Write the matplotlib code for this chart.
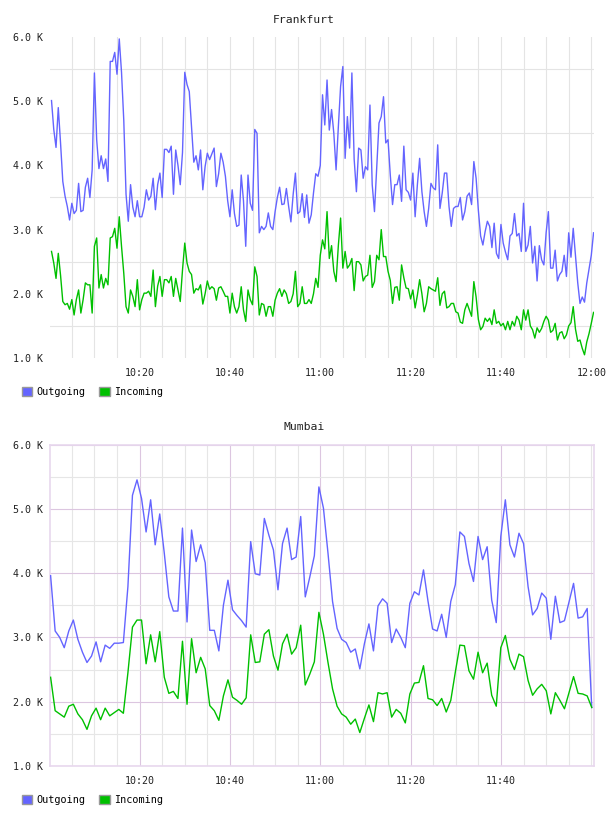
import matplotlib
matplotlib.use('Agg')
import matplotlib.pyplot as plt
import matplotlib.dates as mdates
from matplotlib.patches import Patch
from matplotlib.ticker import MultipleLocator
import pandas as pd

# Frankfurt, 30 s samples from 10:00:30 to 12:00:30 (values in K)
fra_out = [5.01, 4.56, 4.28, 4.90, 4.35, 3.75, 3.52, 3.36, 3.15, 3.41,
           3.25, 3.30, 3.72, 3.28, 3.30, 3.66, 3.80, 3.50, 3.93, 5.44,
           4.40, 3.95, 4.15, 3.95, 4.10, 3.75, 5.62, 5.62, 5.76, 5.42,
           5.97, 5.45, 4.70, 3.55, 3.13, 3.70, 3.35, 3.20, 3.45, 3.20,
           3.20, 3.35, 3.62, 3.46, 3.52, 3.80, 3.31, 3.70, 3.88, 3.50,
           4.25, 4.25, 4.20, 4.30, 3.55, 4.24, 4.00, 3.70, 4.20, 5.45,
           5.26, 5.15, 4.61, 4.05, 4.15, 3.93, 4.24, 3.62, 3.98, 4.19,
           4.09, 4.18, 4.27, 3.67, 3.87, 4.19, 4.05, 3.83, 3.45, 3.20,
           3.62, 3.25, 3.05, 3.07, 3.85, 3.45, 2.74, 3.85, 3.41, 3.30,
           4.56, 4.50, 2.95, 3.05, 3.00, 3.05, 3.26, 3.05, 3.00, 3.28,
           3.50, 3.66, 3.39, 3.40, 3.64, 3.36, 3.12, 3.55, 3.88, 3.25,
           3.28, 3.56, 3.19, 3.54, 3.10, 3.23, 3.57, 3.87, 3.83, 4.00,
           5.10, 4.63, 5.33, 4.55, 4.87, 4.50, 3.93, 4.60, 5.23, 5.54,
           4.11, 4.76, 4.27, 5.44, 4.10, 3.59, 4.27, 4.24, 3.80, 3.98,
           3.93, 4.94, 3.70, 3.28, 3.98, 4.66, 4.76, 5.07, 4.35, 4.40,
           3.85, 3.39, 3.70, 3.70, 3.85, 3.44, 4.30, 3.62, 3.58, 3.46,
           3.88, 3.20, 3.70, 4.11, 3.59, 3.28, 3.05, 3.33, 3.72, 3.65,
           3.62, 4.32, 3.33, 3.57, 3.88, 3.88, 3.36, 3.05, 3.33, 3.36,
           3.36, 3.50, 3.15, 3.28, 3.52, 3.57, 3.39, 4.06, 3.80, 3.30,
           2.90, 2.76, 2.97, 3.13, 3.05, 2.72, 3.10, 2.63, 2.55, 3.08,
           2.79, 2.65, 2.53, 2.90, 2.94, 3.25, 2.90, 2.94, 2.66, 3.41,
           2.66, 2.76, 3.05, 2.48, 2.74, 2.20, 2.75, 2.53, 2.45, 2.95,
           3.28, 2.40, 2.40, 2.68, 2.20, 2.30, 2.35, 2.60, 2.27, 2.95,
           2.57, 3.02, 2.60, 2.17, 1.85, 1.95, 1.87, 2.17, 2.38, 2.60,
           2.95]
fra_in = [2.66, 2.48, 2.24, 2.63, 2.29, 1.88, 1.83, 1.85, 1.76, 1.91,
          1.67, 1.91, 2.06, 1.70, 1.91, 2.17, 2.14, 2.14, 1.70, 2.74,
          2.87, 2.09, 2.30, 2.09, 2.24, 2.14, 2.87, 2.89, 3.02, 2.71,
          3.20, 2.74, 2.32, 1.80, 1.70, 2.06, 1.96, 1.80, 2.22, 1.75,
          1.91, 2.01, 2.01, 2.04, 1.96, 2.37, 1.80, 2.12, 2.27, 1.96,
          2.22, 2.22, 2.17, 2.27, 1.96, 2.24, 2.06, 1.88, 2.37, 2.79,
          2.48, 2.35, 2.30, 2.01, 2.08, 2.06, 2.14, 1.84, 2.00, 2.20,
          2.07, 2.11, 2.08, 1.90, 2.09, 2.11, 2.04, 1.96, 1.96, 1.70,
          2.01, 1.80, 1.70, 1.80, 2.11, 1.75, 1.57, 2.06, 1.91, 1.83,
          2.42, 2.27, 1.67, 1.85, 1.83, 1.65, 1.80, 1.80, 1.65, 1.90,
          2.01, 2.08, 1.96, 2.06, 2.00, 1.85, 1.88, 2.00, 2.35, 1.80,
          1.85, 2.11, 1.85, 1.85, 1.91, 1.85, 2.00, 2.24, 2.10, 2.60,
          2.84, 2.70, 3.28, 2.55, 2.75, 2.35, 2.19, 2.75, 3.18, 2.40,
          2.66, 2.40, 2.45, 2.55, 2.05, 2.50, 2.50, 2.45, 2.20, 2.27,
          2.29, 2.60, 2.10, 2.19, 2.60, 2.53, 3.00, 2.58, 2.58, 2.35,
          2.21, 1.85, 2.10, 2.11, 1.90, 2.45, 2.25, 2.09, 2.08, 1.92,
          2.06, 1.78, 1.98, 2.22, 2.00, 1.72, 1.85, 2.11, 2.08, 2.06,
          2.04, 2.25, 1.82, 2.00, 2.04, 1.78, 1.80, 1.85, 1.85, 1.72,
          1.70, 1.56, 1.54, 1.75, 1.85, 1.75, 1.65, 2.19, 1.95, 1.60,
          1.44, 1.49, 1.62, 1.57, 1.62, 1.52, 1.75, 1.54, 1.57, 1.50,
          1.54, 1.44, 1.57, 1.44, 1.57, 1.50, 1.65, 1.59, 1.44, 1.75,
          1.59, 1.75, 1.50, 1.44, 1.31, 1.47, 1.40, 1.46, 1.57, 1.65,
          1.59, 1.40, 1.43, 1.54, 1.28, 1.39, 1.41, 1.30, 1.36, 1.50,
          1.55, 1.80, 1.45, 1.26, 1.28, 1.15, 1.05, 1.25, 1.38, 1.54,
          1.71]

# Mumbai, ~1 min samples (values in K)
mum_out = [3.96, 3.10, 3.00, 2.84, 3.10, 3.27, 2.97, 2.77, 2.61, 2.71,
           2.93, 2.62, 2.88, 2.83, 2.91, 2.91, 2.92, 3.79, 5.21, 5.45,
           5.16, 4.64, 5.14, 4.44, 4.92, 4.31, 3.63, 3.41, 3.41, 4.70,
           3.24, 4.67, 4.18, 4.44, 4.16, 3.11, 3.11, 2.79, 3.50, 3.89,
           3.43, 3.34, 3.26, 3.16, 4.49, 3.99, 3.97, 4.85, 4.59, 4.36,
           3.74, 4.46, 4.70, 4.21, 4.25, 4.88, 3.63, 3.94, 4.27, 5.34,
           5.01, 4.31, 3.56, 3.14, 2.97, 2.92, 2.77, 2.82, 2.51, 2.90,
           3.21, 2.79, 3.49, 3.60, 3.53, 2.92, 3.13, 3.00, 2.84, 3.53,
           3.71, 3.66, 4.05, 3.56, 3.13, 3.10, 3.36, 3.00, 3.56, 3.82,
           4.64, 4.57, 4.15, 3.87, 4.57, 4.21, 4.41, 3.58, 3.23, 4.57,
           5.14, 4.44, 4.25, 4.62, 4.46, 3.79, 3.35, 3.45, 3.69, 3.61,
           2.97, 3.64, 3.23, 3.26, 3.55, 3.84, 3.30, 3.32, 3.45, 1.91]
mum_in = [2.38, 1.86, 1.81, 1.76, 1.93, 1.96, 1.81, 1.72, 1.57, 1.78,
          1.90, 1.72, 1.90, 1.78, 1.83, 1.88, 1.82, 2.45, 3.16, 3.27,
          3.27, 2.59, 3.04, 2.62, 3.09, 2.38, 2.13, 2.16, 2.05, 2.94,
          1.96, 2.98, 2.45, 2.69, 2.51, 1.94, 1.86, 1.71, 2.09, 2.34,
          2.07, 2.02, 1.96, 2.06, 3.04, 2.61, 2.62, 3.05, 3.12, 2.71,
          2.49, 2.90, 3.05, 2.74, 2.84, 3.19, 2.26, 2.43, 2.62, 3.39,
          3.05, 2.61, 2.20, 1.93, 1.81, 1.76, 1.65, 1.73, 1.52, 1.74,
          1.95, 1.69, 2.14, 2.12, 2.14, 1.76, 1.88, 1.82, 1.67, 2.12,
          2.29, 2.30, 2.56, 2.05, 2.03, 1.94, 2.05, 1.84, 2.02, 2.46,
          2.88, 2.87, 2.48, 2.35, 2.77, 2.45, 2.60, 2.10, 1.93, 2.84,
          3.03, 2.66, 2.50, 2.74, 2.70, 2.33, 2.10, 2.20, 2.27, 2.17,
          1.81, 2.14, 2.02, 1.89, 2.14, 2.39, 2.13, 2.12, 2.09, 1.91]

y_ticks = [1, 2, 3, 4, 5, 6]
y_labels = ['1.0 K', '2.0 K', '3.0 K', '4.0 K', '5.0 K', '6.0 K']
x_labels = ['10:20', '10:40', '11:00', '11:20', '11:40', '12:00']
series = ['Outgoing', 'Incoming']
colors = ['#6464ff', '#00c000']

day = '2020-01-01 '
fra_t = pd.date_range(day + '10:00:30', periods=len(fra_out), freq='30s')
mum_t = pd.date_range(day + '10:00:18', day + '12:00:06', periods=len(mum_out))
x_ticks = pd.to_datetime([day + s for s in x_labels])
xlim = (pd.Timestamp(day + '10:00:10'), pd.Timestamp(day + '12:00:36'))

mono = 'DejaVu Sans Mono'
fig = plt.figure(figsize=(6.08, 8.16), dpi=100)
W, H = 608, 816


def panel(top, bottom, title, t, out, inc, nticks, framed):
    ax = fig.add_axes([50 / W, 1 - bottom / H, 544 / W, (bottom - top) / H])
    ax.plot(t, out, color=colors[0], lw=1.0, zorder=3)
    ax.plot(t, inc, color=colors[1], lw=1.0, zorder=3)
    ax.set_xlim(*xlim)
    ax.set_ylim(1, 6)
    ax.set_yticks(y_ticks)
    ax.set_yticklabels(y_labels)
    ax.yaxis.set_minor_locator(MultipleLocator(0.5))
    ax.set_xticks(x_ticks[:nticks])
    ax.set_xticklabels(x_labels[:nticks])
    ax.xaxis.set_minor_locator(mdates.MinuteLocator(byminute=range(0, 60, 5)))
    ax.tick_params(which='both', length=0)
    ax.tick_params(axis='y', pad=5, labelsize=7.2)
    ax.tick_params(axis='x', pad=7, labelsize=7.2)
    for lab in ax.get_xticklabels() + ax.get_yticklabels():
        lab.set_family(mono)
        lab.set_color('#222222')
    ax.set_axisbelow(True)
    if framed:
        ax.grid(which='major', color='#dcc6e0', lw=0.8)
        ax.grid(which='minor', color='#e6e6e6', lw=0.8)
        for s in ax.spines.values():
            s.set_color('#e8d8ee')
            s.set_linewidth(1.2)
    else:
        ax.grid(which='major', axis='x', color='#e4e4e4', lw=0.8)
        ax.grid(which='minor', color='#e4e4e4', lw=0.8)
        for s in ax.spines.values():
            s.set_visible(False)
    # title is centred on the figure, not the axes
    fig.text(0.5, 1 - (top - 17) / H, title, family=mono, fontsize=8.2,
             ha='center', va='center', color='#222222')
    handles = [Patch(facecolor=c, edgecolor='#999999', label=l)
               for c, l in zip(colors, series)]
    fig.legend(handles=handles, loc='upper left',
               bbox_to_anchor=(22 / W, 1 - (bottom + 29) / H),
               ncol=2, frameon=False, prop={'family': mono, 'size': 7.3},
               handlelength=1.0, handleheight=1.0, handletextpad=0.4,
               columnspacing=1.4, borderpad=0, borderaxespad=0)
    return ax


panel(37, 358, 'Frankfurt', fra_t, fra_out, fra_in, 6, False)
panel(444.5, 766, 'Mumbai', mum_t, mum_out, mum_in, 5, True)

fig.savefig('out.png', dpi=100)
